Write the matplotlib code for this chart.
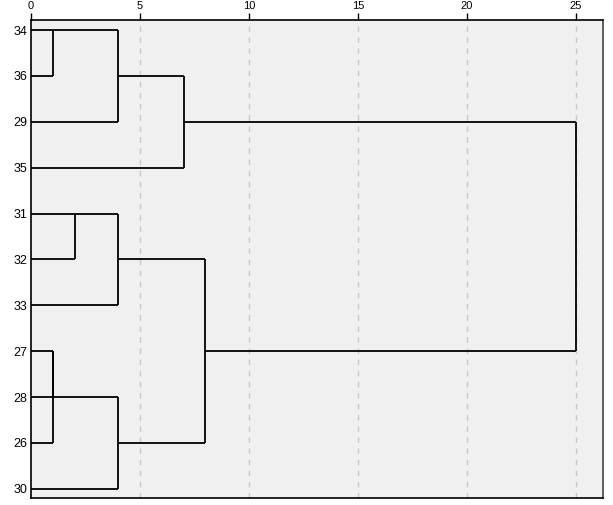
import matplotlib
matplotlib.use("Agg")
import matplotlib.pyplot as plt

plt.rcParams['font.family'] = ['Liberation Sans', 'DejaVu Sans']

# Leaf labels in dendrogram order (top to bottom)
leaf_labels = ["34", "36", "29", "35", "31", "32", "33", "27", "28", "26", "30"]

# Merge schedule: (cluster A, cluster B, rescaled distance)
# Leaves referenced by label; merged clusters referenced as "c0", "c1", ...
merge_a = ["34", "c0", "c1", "31", "c3", "27", "c5", "c6", "c4", "c2"]
merge_b = ["36", "29", "35", "32", "33", "28", "26", "30", "c7", "c8"]
merge_dist = [1, 4, 7, 2, 4, 1, 1, 4, 8, 25]

x_ticks = [0, 5, 10, 15, 20, 25]

fig = plt.figure(figsize=(6.13, 5.05), dpi=100)
ax = fig.add_axes([31 / 613, 1 - 498 / 505, (603 - 31) / 613, (498 - 20) / 505])
ax.set_facecolor("#f0f0f0")

# cluster state: row position and current x start
state = {lab: (i, 0.0) for i, lab in enumerate(leaf_labels)}
lw = 1.3
for k, (a, b, d) in enumerate(zip(merge_a, merge_b, merge_dist)):
    ra, xa = state[a]
    rb, xb = state[b]
    ax.plot([xa, d], [ra, ra], color="black", lw=lw, solid_capstyle="butt", zorder=3)
    ax.plot([xb, d], [rb, rb], color="black", lw=lw, solid_capstyle="butt", zorder=3)
    ax.plot([d, d], [ra, rb], color="black", lw=lw, solid_capstyle="butt", zorder=3)
    state["c%d" % k] = ((ra + rb) // 2, float(d))

for t in x_ticks[1:]:
    ax.axvline(t, color="#c8c8c8", lw=1.0, ls=(0, (4, 4)), zorder=1)

ax.set_xlim(0, 26.25)
ax.set_ylim(10.2, -0.22)
ax.xaxis.tick_top()
ax.set_xticks(x_ticks)
ax.set_xticklabels([str(t) for t in x_ticks], fontsize=8)
ax.tick_params(axis="x", direction="out", length=5, width=1, pad=1.5, colors="black")
ax.set_yticks(range(len(leaf_labels)))
ax.set_yticklabels(leaf_labels, fontsize=9)
ax.tick_params(axis="y", length=0, pad=2.5)
for s in ax.spines.values():
    s.set_color("black")
    s.set_linewidth(1.2)
ax.spines["right"].set_color("#444444")

fig.savefig("out.png", dpi=100, facecolor="white")
